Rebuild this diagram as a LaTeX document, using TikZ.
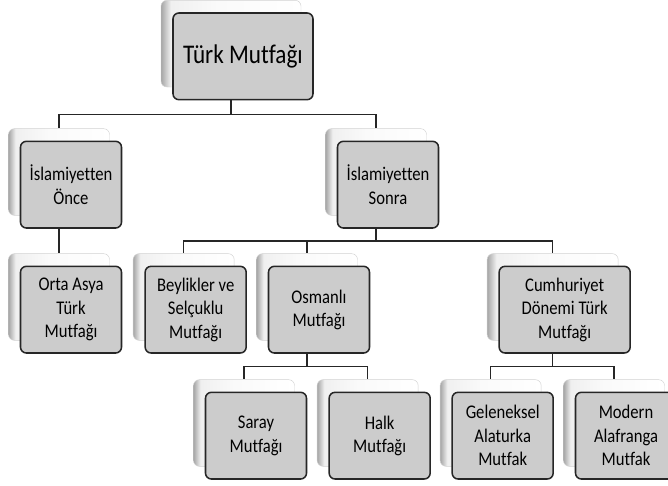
\documentclass[tikz,border=0pt]{standalone}
\usepackage{fontspec}
\setmainfont{Carlito}[FakeStretch=0.86,Ligatures=NoCommon]
\usepackage{xcolor}
\usepackage{tikz}
\usetikzlibrary{positioning,calc}

% light card behind each box: gray band on the left edge
\pgfdeclarehorizontalshading{cardshade}{100bp}{color(0bp)=(gray!70); color(25bp)=(gray!70); color(28.5bp)=(gray!12); color(45bp)=(gray!4); color(75bp)=(white); color(100bp)=(white)}

\begin{document}
\begin{tikzpicture}[font=\fontsize{16.5}{20}\selectfont,
 crd/.style={rounded corners=5pt,draw=gray!35,thin,shading=cardshade,minimum width=30.3mm,minimum height=26mm,inner sep=0pt},
 box/.style={rounded corners=5pt,draw=black!85,line width=1.3pt,fill=gray!40,text=black,minimum width=30.3mm,minimum height=26mm,align=center,inner sep=0pt},
 conn/.style={line width=1.1pt,black!85}]
\useasboundingbox (0,0) rectangle (20.04,-14.55);
\clip (0,0) rectangle (20.04,-14.55);
% back cards
\node[crd,minimum width=42mm] (turk-b) at (6.93,-1.31) {};
\node[crd] (once-b) at (1.77,-5.16) {};
\node[crd] (sonra-b) at (11.28,-5.16) {};
\node[crd] (orta-b) at (1.77,-8.91) {};
\node[crd] (beylik-b) at (5.51,-8.91) {};
\node[crd] (osmanli-b) at (9.21,-8.91) {};
\node[crd,minimum width=39.3mm] (cumh-b) at (16.58,-8.91) {};
\node[crd] (saray-b) at (7.32,-12.69) {};
\node[crd] (halk-b) at (11.03,-12.69) {};
\node[crd] (gelenek-b) at (14.72,-12.69) {};
\node[crd] (modern-b) at (18.42,-12.69) {};
% front boxes
\node[box,minimum width=42mm,font=\fontsize{23}{28}\selectfont] (turk) at (7.29,-1.69) {Türk Mutfağı};
\node[box] (once) at (2.13,-5.54) {İslamiyetten\\ Önce};
\node[box] (sonra) at (11.64,-5.54) {İslamiyetten\\ Sonra};
\node[box] (orta) at (2.13,-9.29) {Orta Asya\\ Türk\\ Mutfağı};
\node[box] (beylik) at (5.87,-9.29) {Beylikler ve\\ Selçuklu\\ Mutfağı};
\node[box] (osmanli) at (9.57,-9.29) {Osmanlı\\ Mutfağı};
\node[box,minimum width=39.3mm] (cumh) at (16.94,-9.29) {Cumhuriyet\\ Dönemi Türk\\ Mutfağı};
\node[box] (saray) at (7.68,-13.07) {Saray\\ Mutfağı};
\node[box] (halk) at (11.39,-13.07) {Halk\\ Mutfağı};
\node[box] (gelenek) at (15.08,-13.07) {Geleneksel\\ Alaturka\\ Mutfak};
\node[box] (modern) at (18.78,-13.07) {Modern\\ Alafranga\\ Mutfak};
% connectors
\draw[conn] (turk.south -| turk-b) -- ++(0,-0.43) -| (once-b.north);
\draw[conn] (turk.south -| turk-b) -- ++(0,-0.43) -| (sonra-b.north);
\draw[conn] (once.south -| once-b) -- (orta-b.north);
\draw[conn] (sonra.south -| sonra-b) -- ++(0,-0.37) -| (beylik-b.north);
\draw[conn] (sonra.south -| sonra-b) -- ++(0,-0.37) -| (osmanli-b.north);
\draw[conn] (sonra.south -| sonra-b) -- ++(0,-0.37) -| (cumh-b.north);
\draw[conn] (osmanli.south -| osmanli-b) -- ++(0,-0.39) -| (saray-b.north);
\draw[conn] (osmanli.south -| osmanli-b) -- ++(0,-0.39) -| (halk-b.north);
\draw[conn] (cumh.south -| cumh-b) -- ++(0,-0.39) -| (gelenek-b.north);
\draw[conn] (cumh.south -| cumh-b) -- ++(0,-0.39) -| (modern-b.north);
\end{tikzpicture}
\end{document}
